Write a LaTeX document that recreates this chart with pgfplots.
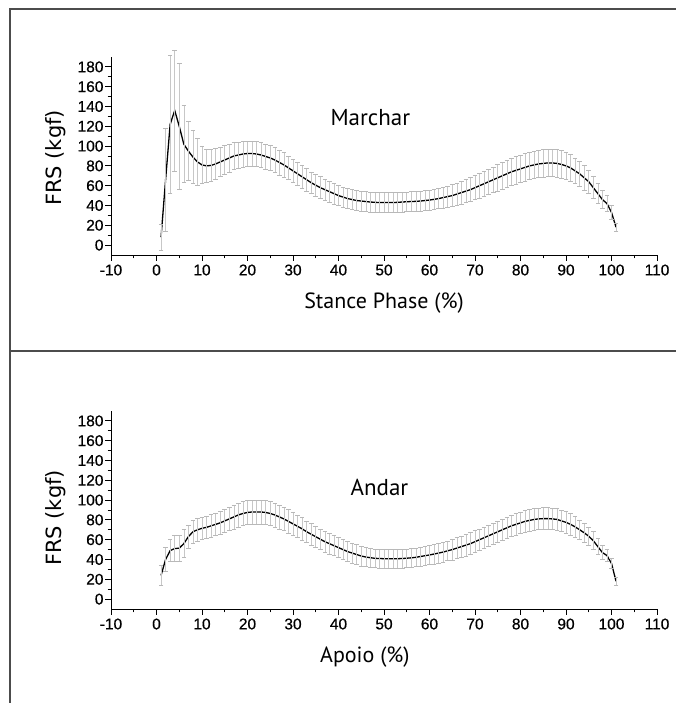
\documentclass[border=0pt]{standalone}
\usepackage{fontspec}
\setmainfont{Liberation Sans}
\newfontfamily\labfont{PT Sans}
\newfontfamily\ylabfont{DejaVu Sans}
\newfontfamily\tickfont[FakeBold=0.5]{Liberation Sans}
\usepackage{pgfplots}
\usepackage{pgfplotstable}
\pgfplotsset{compat=1.18}

\pgfplotstableread{
x y e
1 8 13.5
2 66 52
3 122 70
4 136 61
5 120 64
6 102 39
7 95 30
8 89 27
9 84 24
10 81 19
11 80 17
12 80.5 16
13 82 15.5
14 84 15
15 86 14.5
16 88 14
17 90 13.5
18 91 13
19 92 13
20 92.5 12.5
21 92.5 12.5
22 92 12.5
23 91 12.5
24 89.5 12.5
25 88 12.5
26 86 12.5
27 83.5 12.5
28 81 12.5
29 78 12
30 75 12
31 72 12
32 69 11.5
33 66 11.5
34 63 11
35 60.5 11
36 58 11
37 56 10.5
38 54 10.5
39 52 10.5
40 50 10
41 48.5 10
42 47 10
43 46 10
44 45 10
45 44.5 10
46 44 10
47 43.5 10
48 43.2 10
49 43 10
50 43 10
51 43 10
52 43 10
53 43.2 10
54 43.5 10
55 43.8 10
56 44 10
57 44.2 10
58 44.5 10
59 45 10
60 45.5 10
61 46.2 10
62 47 10
63 48 10.5
64 49 10.5
65 50 11
66 51.5 11
67 53 11.5
68 54.5 11.5
69 56 12
70 58 12
71 60 12.5
72 62 12.5
73 64 13
74 66 13
75 68 13.5
76 70 13.5
77 72 14
78 74 14
79 75.5 14
80 77 14
81 78.5 14
82 80 14
83 81 14
84 82 14
85 82.5 14
86 83 14
87 83 14
88 82.5 14
89 81.5 14
90 80 14
91 78 13.5
92 75 13
93 72 13
94 68 12.5
95 64 12
96 58 11
97 52 10
98 46 9
99 42 8
100 33 7
101 18 4
}\marchar

\pgfplotstableread{
x y e
1 24 10
2 40 12
3 49 11
4 51 13
5 51.5 13
6 56 14
7 63 12
8 68 11.5
9 70 11.5
10 71.5 11.5
11 72.5 11.5
12 74 11.5
13 75.5 11.5
14 77 11.5
15 79 11.5
16 81 12
17 83 12
18 85 12
19 86.5 12
20 87.5 12
21 88 12
22 88 12
23 88 12
24 87.5 12
25 86.5 12
26 85 12
27 83 12
28 81 12
29 78.5 12
30 76 12
31 73.5 11.5
32 71 11.5
33 68 11
34 65.5 11
35 63 11
36 60.5 10.5
37 58 10.5
38 56 10.5
39 54 10
40 52 10
41 50 10
42 48 10
43 46.5 10
44 45 10
45 43.5 10
46 42.5 9.5
47 41.8 9.5
48 41.2 9.5
49 41 9.5
50 40.8 9.5
51 40.7 9.5
52 40.7 9.5
53 40.8 9.5
54 41 9.5
55 41.3 9.5
56 41.7 9.5
57 42.2 9.5
58 43 9.5
59 43.8 9.5
60 44.6 9.5
61 45.5 10
62 46.5 10
63 47.5 10
64 48.8 10
65 50 10.5
66 51.5 10.5
67 53 10.5
68 54.5 11
69 56 11
70 58 11
71 60 11
72 62 11
73 64 11
74 66 11
75 68 11
76 70 11
77 72 11
78 74 11
79 75.5 11
80 77 11
81 78.5 11
82 79.5 11
83 80.5 11
84 81 11
85 81.3 11
86 81.3 11
87 81 11
88 80.5 11
89 79 11
90 77.5 11
91 75.5 11
92 73 10.5
93 70 10
94 67 10
95 63.5 9.5
96 59 9
97 53 8
98 47 7
99 44 6
100 36 5
101 18 4
}\andar

\pgfplotsset{
  frs/.style={
    scale only axis,
    width=546pt, height=198pt,
    xmin=-10, xmax=110, ymin=-10, ymax=190,
    axis lines=left,
    axis line style={-, line width=0.9pt},
    xtick={-10,0,...,110},
    xticklabels={-10,0,10,20,30,40,50,60,70,80,90,100,110},
    ytick={0,20,...,180},
    yticklabels={0,20,40,60,80,100,120,140,160,180},
    minor x tick num=1, minor y tick num=1,
    tick align=outside,
    major tick length=6pt, minor tick length=3.5pt,
    every tick/.style={black, line width=0.9pt},
    tick label style={font=\tickfont\fontsize{15.5}{15.5}\selectfont},
    xticklabel style={yshift=0pt},
    yticklabel style={xshift=2pt},
    ylabel={FRS (kgf)},
    ylabel style={font=\ylabfont\fontsize{21}{21}\selectfont, anchor=center},
    xlabel style={font=\labfont\fontsize{22}{22}\selectfont, anchor=center},
    clip=false,
  },
  sdbars/.style={
    black, line width=1.3pt,
    error bars/.cd, y dir=both, y explicit,
    error bar style={black!22, line width=0.6pt},
    error mark=-,
    error mark options={rotate=90, black!28, mark size=2.3pt, line width=0.6pt},
  },
}

\begin{document}
\begin{tikzpicture}[x=1pt,y=1pt]
\useasboundingbox (0,0) rectangle (676,703);
\draw[black!70, line width=1.4pt] (676,694) -- (10,694) -- (10,0);
\draw[black!70, line width=1.4pt] (10,352) -- (676,352);

\begin{axis}[frs, at={(111pt,448pt)}, anchor=south west,
  xlabel={Stance Phase (\%)},
  xlabel style={at={(axis description cs:0.5,-0.242)}},
  ylabel style={at={(axis description cs:-0.102,0.49)}}]
  \addplot[sdbars] table[x=x, y=y, y error=e] {\marchar};
  \node[font=\labfont\fontsize{23}{23}\selectfont] at (axis cs:47,129) {Marchar};
\end{axis}

\begin{axis}[frs, at={(111pt,94pt)}, anchor=south west,
  xlabel={Apoio (\%)},
  xlabel style={at={(axis description cs:0.465,-0.242)}},
  ylabel style={at={(axis description cs:-0.102,0.46)}}]
  \addplot[sdbars] table[x=x, y=y, y error=e] {\andar};
  \node[font=\labfont\fontsize{23}{23}\selectfont] at (axis cs:49,113) {Andar};
\end{axis}
\end{tikzpicture}
\end{document}
